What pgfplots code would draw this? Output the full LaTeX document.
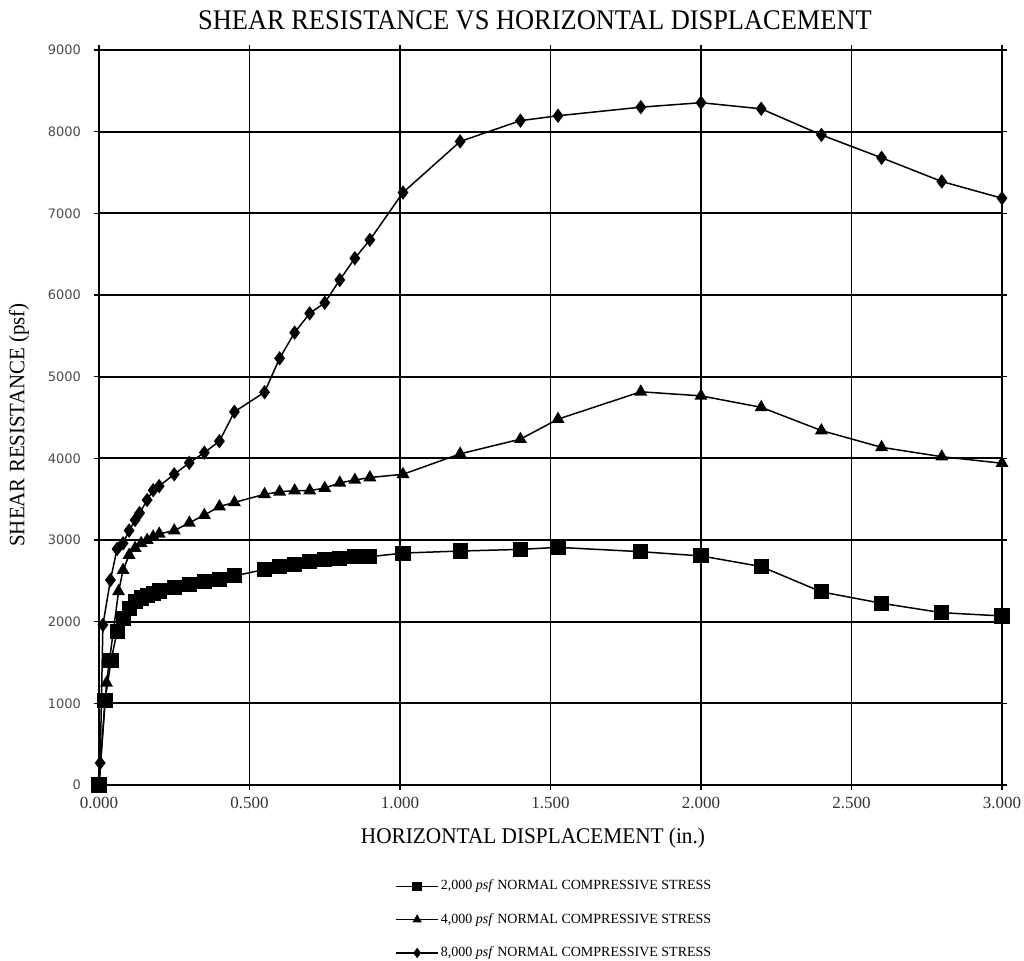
\documentclass[border=0pt]{standalone}
\usepackage{fontspec}
\setmainfont{Liberation Serif}
\newfontfamily\ysans{DejaVu Sans}
\usepackage{graphicx}
\usepackage{pgfplots}
\pgfplotsset{compat=1.18}
\begin{document}
\begin{tikzpicture}
\path[use as bounding box] (-49.5pt,-87.5pt) rectangle (462.5pt,392.5pt);
\begin{axis}[
  at={(0pt,0pt)}, anchor=south west,
  scale only axis, width=451.5pt, height=367.5pt,
  xmin=0, xmax=3, ymin=0, ymax=9000,
  xtick={0,0.5,1,1.5,2,2.5,3},
  ytick={0,1000,2000,3000,4000,5000,6000,7000,8000,9000},
  grid=major,
  grid style={black, line width=0.9pt},
  axis line style={black, line width=0.9pt},
  tick style={black, line width=0.6pt},
  tick align=outside,
  major tick length=2.5pt,
  clip=false,
  /pgf/number format/assume math mode=true,
  xticklabel style={font=\fontsize{8.5}{9}\selectfont, text=black!80, /pgf/number format/.cd, fixed, fixed zerofill, precision=3},
  yticklabel style={font=\ysans\fontsize{6.5}{7}\selectfont, text=black!70, xshift=-3pt, /pgf/number format/.cd, 1000 sep={}},
  legend style={at={(0.3278,-0.126)}, anchor=north west, draw=none, fill=none,
    font=\fontsize{7}{8}\selectfont, row sep=8.2pt, inner sep=0pt,
    nodes={inner sep=1pt}},
  legend cell align=left,
  legend image code/.code={\draw[mark repeat=2,mark phase=2,#1,mark size=2pt] plot coordinates {(0pt,0pt)(10.5pt,0pt)(21pt,0pt)};},
]
\addplot[black, line width=0.75pt, mark=square*, mark size=3.4pt, mark options={solid}] coordinates {
(0,0)(0.02,1040)(0.04,1520)(0.06,1880)(0.08,2040)(0.10,2160)(0.12,2245)(0.14,2290)(0.16,2315)(0.18,2345)(0.20,2375)(0.25,2420)(0.30,2460)(0.35,2495)(0.40,2520)(0.45,2560)(0.55,2640)(0.60,2675)(0.65,2700)(0.70,2735)(0.75,2765)(0.80,2770)(0.85,2795)(0.90,2795)(1.01,2840)(1.20,2865)(1.40,2885)(1.525,2910)(1.80,2857)(2.00,2805)(2.20,2675)(2.40,2365)(2.60,2225)(2.80,2110)(3.00,2070)
};
\addlegendentry{2,000 \textit{psf} NORMAL COMPRESSIVE STRESS}
\addplot[black, line width=0.75pt, mark=triangle*, mark size=3pt, mark options={solid}] coordinates {
(0,0)(0.025,1250)(0.065,2370)(0.08,2630)(0.10,2815)(0.12,2900)(0.14,2960)(0.16,3000)(0.18,3040)(0.20,3075)(0.25,3115)(0.30,3210)(0.35,3305)(0.40,3410)(0.45,3460)(0.55,3560)(0.60,3590)(0.65,3605)(0.70,3605)(0.75,3635)(0.80,3700)(0.85,3735)(0.90,3765)(1.01,3805)(1.20,4055)(1.40,4235)(1.525,4480)(1.80,4815)(2.00,4765)(2.20,4625)(2.40,4340)(2.60,4135)(2.80,4020)(3.00,3940)
};
\addlegendentry{4,000 \textit{psf} NORMAL COMPRESSIVE STRESS}
\addplot[black, line width=0.75pt, mark=diamond*, mark size=3pt, mark options={solid}] coordinates {
(0,0)(0.004,270)(0.013,1960)(0.038,2510)(0.06,2890)(0.08,2960)(0.10,3115)(0.12,3245)(0.135,3330)(0.16,3490)(0.18,3610)(0.20,3660)(0.25,3805)(0.30,3945)(0.35,4070)(0.40,4210)(0.45,4570)(0.55,4810)(0.60,5225)(0.65,5540)(0.70,5775)(0.75,5905)(0.80,6185)(0.85,6450)(0.90,6675)(1.01,7255)(1.20,7880)(1.40,8135)(1.525,8195)(1.80,8300)(2.00,8355)(2.20,8280)(2.40,7960)(2.60,7680)(2.80,7390)(3.00,7185)
};
\addlegendentry{8,000 \textit{psf} NORMAL COMPRESSIVE STRESS}
\end{axis}
\node at (218pt,382.5pt) {\scalebox{0.93}[1]{\fontsize{14.2}{15}\selectfont SHEAR RESISTANCE VS HORIZONTAL DISPLACEMENT}};
\node at (217pt,-26.5pt) {\scalebox{0.95}[1]{\fontsize{11.2}{12}\selectfont HORIZONTAL DISPLACEMENT (in.)}};
\node[rotate=90] at (-40pt,180pt) {\scalebox{0.95}[1]{\fontsize{11}{12}\selectfont SHEAR RESISTANCE (psf)}};
\end{tikzpicture}
\end{document}
